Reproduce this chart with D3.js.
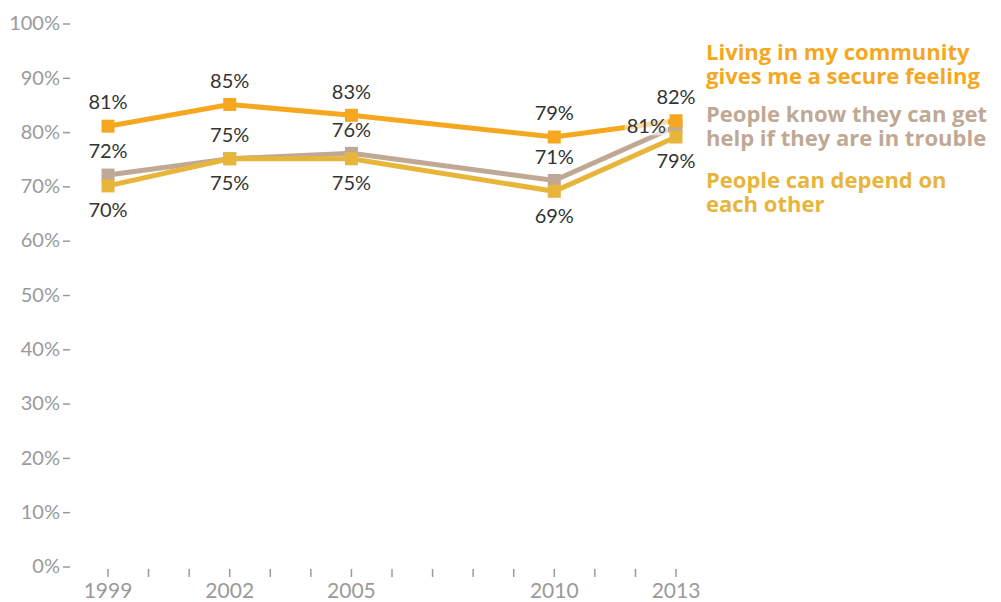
<!DOCTYPE html>
<html>
<head>
<meta charset="utf-8">
<script src="https://cdn.jsdelivr.net/npm/d3@7"></script>
<style>
  body { margin: 0; background: #fff; }
  text { font-family: "Lato", "DejaVu Sans", sans-serif; }
</style>
</head>
<body>
<script>
var width = 1001;
var height = 602;

var years = [1999, 2002, 2005, 2010, 2013];
var secure = [81, 85, 83, 79, 82];
var helpTrouble = [72, 75, 76, 71, 81];
var dependOn = [70, 75, 75, 69, 79];
var yTicks = [0, 10, 20, 30, 40, 50, 60, 70, 80, 90, 100];

var series = [
  { name: ["People know they can get", "help if they are in trouble"], values: helpTrouble, color: "#bfa994", pos: ["above", "above", "above", "above", "left"], legendY: 122 },
  { name: ["People can depend on", "each other"], values: dependOn, color: "#e8b53b", pos: ["below", "below", "below", "below", "below"], legendY: 188 },
  { name: ["Living in my community", "gives me a secure feeling"], values: secure, color: "#f5a81f", pos: ["above", "above", "above", "above", "above"], legendY: 60 }
];

var svg = d3.select("body")
  .append("svg")
  .attr("width", width)
  .attr("height", height);

var x = d3.scaleLinear().domain([1999, 2013]).range([108, 676]);
var y = d3.scaleLinear().domain([0, 100]).range([566, 23]);

// y axis labels and dashes
var yAxis = svg.append("g");
yAxis.selectAll("text")
  .data(yTicks)
  .enter()
  .append("text")
  .attr("x", 60)
  .attr("y", function (d) { return y(d); })
  .attr("dy", "0.36em")
  .attr("text-anchor", "end")
  .attr("fill", "#9a9a9a")
  .attr("font-size", 20)
  .text(function (d) { return d + "%"; });
yAxis.selectAll("line")
  .data(yTicks)
  .enter()
  .append("line")
  .attr("x1", 63)
  .attr("x2", 70)
  .attr("y1", function (d) { return y(d) + 1; })
  .attr("y2", function (d) { return y(d) + 1; })
  .attr("stroke", "#9a9a9a")
  .attr("stroke-width", 1.5);

// x axis: one tick per year, labels at survey years
var xAxis = svg.append("g");
xAxis.selectAll("line")
  .data(d3.range(1999, 2014))
  .enter()
  .append("line")
  .attr("x1", function (d) { return x(d); })
  .attr("x2", function (d) { return x(d); })
  .attr("y1", 569)
  .attr("y2", 577)
  .attr("stroke", "#9a9a9a")
  .attr("stroke-width", 1.5);
xAxis.selectAll("text")
  .data(years)
  .enter()
  .append("text")
  .attr("x", function (d) { return x(d); })
  .attr("y", 598)
  .attr("text-anchor", "middle")
  .attr("fill", "#9a9a9a")
  .attr("font-size", 21)
  .text(function (d) { return d; });

var line = d3.line()
  .x(function (d, i) { return x(years[i]); })
  .y(function (d) { return y(d); });

var marks = svg.append("g");
series.forEach(function (s) {
  var g = marks.append("g");
  g.append("path")
    .attr("d", line(s.values))
    .attr("fill", "none")
    .attr("stroke", s.color)
    .attr("stroke-width", 5);
  g.selectAll("rect")
    .data(s.values)
    .enter()
    .append("rect")
    .attr("x", function (d, i) { return x(years[i]) - 6.5; })
    .attr("y", function (d) { return y(d) - 6.5; })
    .attr("width", 13)
    .attr("height", 13)
    .attr("fill", s.color);
});

// value labels
var labels = svg.append("g");
series.forEach(function (s) {
  s.values.forEach(function (v, i) {
    var px = x(years[i]);
    var py = y(v);
    var p = s.pos[i];
    var lx = px, ly = py, anchor = "middle";
    if (p == "above") { ly = py - 24; }
    if (p == "below") { ly = py + 24; }
    if (p == "left") { lx = px - 10; anchor = "end"; }
    var t = labels.append("text")
      .attr("x", lx)
      .attr("y", ly)
      .attr("dy", "0.36em")
      .attr("text-anchor", anchor)
      .attr("fill", "#333")
      .attr("font-size", 20)
      .text(v + "%");
    if (p == "left") {
      var bb = t.node().getBBox();
      labels.insert("rect", "text")
        .attr("x", bb.x - 2)
        .attr("y", bb.y + 2)
        .attr("width", bb.width + 4)
        .attr("height", bb.height - 4)
        .attr("fill", "#fff")
        .attr("opacity", 0.6);
    }
  });
});

// legend
var legend = svg.append("g");
series.forEach(function (s) {
  legend.append("text")
    .attr("x", 706)
    .attr("y", s.legendY)
    .attr("fill", s.color)
    .attr("font-size", 22)
    .attr("font-weight", "bold")
    .style("font-family", "'Open Sans', sans-serif")
    .selectAll("tspan")
    .data(s.name)
    .enter()
    .append("tspan")
    .attr("x", 706)
    .attr("dy", function (d, i) { return i == 0 ? 0 : 24; })
    .text(function (d) { return d; });
});
</script>
</body>
</html>
